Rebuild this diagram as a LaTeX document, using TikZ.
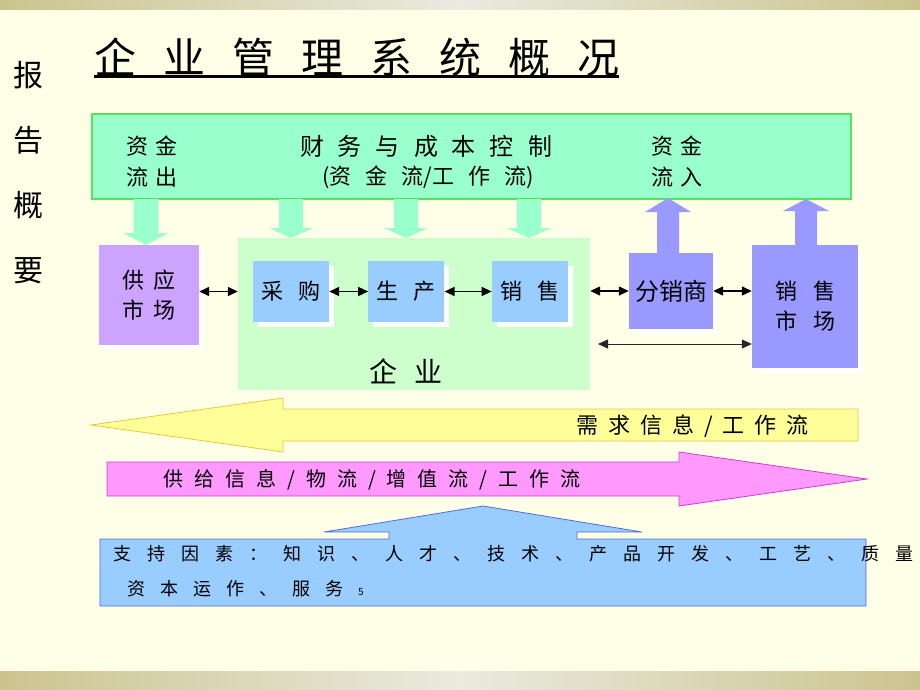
\documentclass[tikz,border=0pt]{standalone}
\usepackage{fontspec}
\setmainfont{Noto Sans CJK SC}
\usetikzlibrary{positioning,arrows.meta,shadows}

\definecolor{paper}{RGB}{255,255,232}
\definecolor{band}{RGB}{204,196,142}
\definecolor{bandlight}{RGB}{234,234,224}
\definecolor{topgreen}{RGB}{153,255,204}
\definecolor{topline}{RGB}{90,225,90}
\definecolor{qiyegreen}{RGB}{204,255,204}
\definecolor{lilac}{RGB}{204,163,255}
\definecolor{skyblue}{RGB}{153,204,255}
\definecolor{violet}{RGB}{153,153,255}
\definecolor{lemon}{RGB}{255,255,153}
\definecolor{lemonline}{RGB}{232,200,60}
\definecolor{pinkfill}{RGB}{255,153,255}
\definecolor{pinkline}{RGB}{210,60,210}
\definecolor{blueline}{RGB}{80,110,220}

% size, line distance, gap between characters
\newcommand{\cjkf}[3]{\fontsize{#1}{#2}\selectfont\spaceskip=#3pt\relax}
% fill, x, shaft end, head base, tip, half shaft, half head
\newcommand{\blockarrow}[7]{%
  \fill[#1] (#2-#6,#3) -- (#2-#6,#4) -- (#2-#7,#4) -- (#2,#5) -- (#2+#7,#4) -- (#2+#6,#4) -- (#2+#6,#3) -- cycle;}

\begin{document}
\begin{tikzpicture}[x=1pt,y=-1pt,>={Triangle[length=10pt,width=9pt]},
    every node/.style={inner sep=0pt},
    shadowed/.style={drop shadow={fill=white,opacity=1,shadow xshift=5pt,shadow yshift=-5pt}},
    unit/.style={rectangle,fill=skyblue,minimum width=76pt,minimum height=61pt,shadowed,font=\cjkf{22}{28}{15}},
    market/.style={rectangle,fill=#1,shadowed,align=center},
    link/.style={<->,line width=1.4pt}]
    \useasboundingbox (0,0) rectangle (920,690);
    \fill[paper] (0,0) rectangle (920,690);
    \shade[left color=band,right color=band,middle color=bandlight] (0,0) rectangle (920,10);
    \shade[left color=band,right color=band,middle color=bandlight] (0,671) rectangle (920,690);
    %
    \node[font=\cjkf{30}{65}{0},align=center] (baogao) at (28,173) {报\\告\\概\\要};
    \node[font=\cjkf{42}{50}{27},anchor=west] (title) at (94,57) {企 业 管 理 系 统 概 况};
    \draw[line width=3pt] (title.south west) -- (title.south east);
    %
    \node[rectangle,fill=topgreen,draw=topline,line width=1.2pt,minimum width=759pt,minimum height=85pt] (caiwu) at (471.5,156.5) {};
    \node[font=\cjkf{22}{31}{8},align=center] (zijinchu) at (152,161.5) {资 金\\流 出};
    \node[font=\cjkf{24}{30}{14}] (kongzhi) at (426,146) {财 务 与 成 本 控 制};
    \node[font=\cjkf{22}{30}{14}] (zijinliu) at (428,177) {(资 金 流/工 作 流)};
    \node[font=\cjkf{22}{31}{8},align=center] (zijinru) at (677,161.5) {资 金\\流 入};
    %
    \blockarrow{topgreen}{146}{199}{233}{245}{12.5}{22.5}
    \blockarrow{topgreen}{291}{199}{228}{238}{12}{22}
    \blockarrow{topgreen}{406}{199}{228}{238}{12}{22}
    \blockarrow{topgreen}{529}{199}{228}{238}{12}{22}
    \blockarrow{violet}{668}{258}{212}{198}{11}{23}
    \blockarrow{violet}{806}{250}{211}{199}{11}{23}
    %
    \node[rectangle,fill=qiyegreen,minimum width=352pt,minimum height=152pt] (qiye) at (414,314) {};
    \node[font=\cjkf{28}{34}{18}] (qiyename) at (406,371) {企 业};
    \node[unit] (caigou) at (291,291.5) {采 购};
    \node[unit,right=39pt of caigou] (shengchan) {生 产};
    \node[unit,right=47pt of shengchan] (xiaoshou) {销 售};
    %
    \node[market=lilac,minimum width=100pt,minimum height=100pt,font=\cjkf{22}{30}{10}] (gongying) at (149,295) {供 应\\市 场};
    \node[market=violet,minimum width=84pt,minimum height=76pt,font=\cjkf{24}{30}{0}] (fenxiao) at (671,291) {分销商};
    \node[market=violet,minimum width=106pt,minimum height=123pt,font=\cjkf{22}{30}{16}] (shichang) at (805,306.5) {销 售\\市 场};
    %
    \draw[link] (gongying.east |- caigou) -- (qiye.west |- caigou);
    \draw[link] (caigou) -- (shengchan);
    \draw[link] (shengchan) -- (xiaoshou);
    \draw[link] (qiye.east |- fenxiao) -- (fenxiao);
    \draw[link] (fenxiao) -- (fenxiao -| shichang.west);
    \coordinate (huanliu) at (598,344);
    \draw[link,line width=1pt,black!85] (huanliu) -- (huanliu -| shichang.west);
    %
    \filldraw[fill=lemon,draw=lemonline,line width=0.8pt] (858,409) -- (283,409) -- (283,398) -- (91,425) -- (283,452) -- (283,441) -- (858,441) -- cycle;
    \node[font=\cjkf{22}{28}{10},anchor=west] (xuqiu) at (576,426) {需 求 信 息 / 工 作 流};
    \filldraw[fill=pinkfill,draw=pinkline,line width=0.8pt] (107,462) -- (679,462) -- (679,452) -- (867,479) -- (679,506) -- (679,496) -- (107,496) -- cycle;
    \node[font=\cjkf{20}{26}{11},anchor=west] (gongji) at (163,480) {供 给 信 息 / 物 流 / 增 值 流 / 工 作 流};
    %
    \filldraw[fill=skyblue,draw=blueline,line width=0.8pt] (100,539) -- (389,539) -- (389,532) -- (324,532) -- (483,506) -- (642,532) -- (577,532) -- (577,539) -- (866,539) -- (866,606) -- (100,606) -- cycle;
    \node[font=\cjkf{18}{24}{16},anchor=west] (zhichi) at (113,554) {支 持 因 素 ： 知 识 、 人 才 、 技 术 、 产 品 开 发 、 工 艺 、 质 量};
    \node[font=\cjkf{18}{24}{15},anchor=west] (zhichib) at (127,589) {资 本 运 作 、 服 务 {\fontsize{10}{12}\selectfont 5}};
\end{tikzpicture}
\end{document}
